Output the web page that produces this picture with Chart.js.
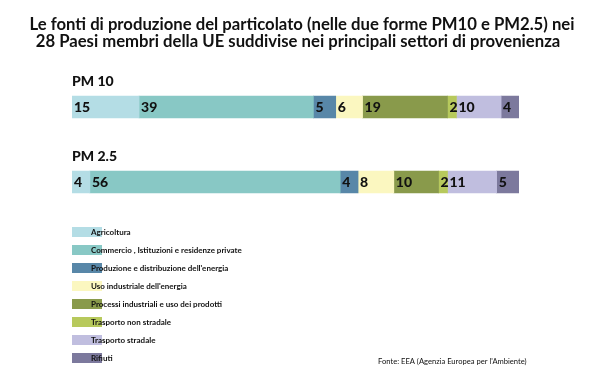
<!DOCTYPE html>
<html>
<head>
<meta charset="utf-8">
<script src="https://cdn.jsdelivr.net/npm/chart.js@4"></script>
<style>
    html, body { margin: 0; padding: 0; background: #fff; }
    canvas { display: block; }
</style>
</head>
<body>
<canvas id="chart" width="600" height="382"></canvas>
<script>
const categories = ["PM 10", "PM 2.5"]
const sectors = [
    "Agricoltura",
    "Commercio , Istituzioni e residenze private",
    "Produzione e distribuzione dell'energia",
    "Uso industriale dell'energia",
    "Processi industriali e uso dei prodotti",
    "Trasporto non stradale",
    "Trasporto stradale",
    "Rifiuti",
]
const pm10Values = [15, 39, 5, 6, 19, 2, 10, 4]
const pm25Values = [4, 56, 4, 8, 10, 2, 11, 5]
const sectorColors = [
    "#b4dde5", "#88c8c5", "#5887a8", "#fbf7c0",
    "#899a4b", "#b7c95c", "#c0bedf", "#7c799d",
]
const titleLines = [
    "Le fonti di produzione del particolato (nelle due forme PM10 e PM2.5) nei",
    "28 Paesi membri della UE suddivise nei principali settori di provenienza",
]
const sourceText = "Fonte: EEA (Agenzia Europea per l'Ambiente)"

const FONT = "Lato, 'Open Sans', sans-serif"

const datasets = sectors.map((name, i) => ({
    label: name,
    data: [pm10Values[i], pm25Values[i]],
    backgroundColor: sectorColors[i],
    borderWidth: 0,
    barThickness: 22,
}))

const decorations = {
    id: "decorations",
    afterDatasetsDraw(chart) {
        const ctx = chart.ctx
        ctx.save()
        ctx.fillStyle = "#111"
        ctx.textBaseline = "middle"

        // segment values
        ctx.font = "900 14px " + FONT
        ctx.textAlign = "left"
        chart.data.datasets.forEach((ds, i) => {
            chart.getDatasetMeta(i).data.forEach((bar, j) => {
                const left = Math.min(bar.x, bar.base)
                ctx.fillText(ds.data[j], left + 2, bar.y)
            })
        })

        // category labels above bars
        ctx.font = "900 14px " + FONT
        const yScale = chart.scales.y
        categories.forEach((c, i) => {
            ctx.fillText(c, 72, yScale.getPixelForValue(i) - 26)
        })

        // title
        ctx.font = "bold 16.7px " + FONT
        ctx.textAlign = "center"
        ctx.fillText(titleLines[0], 302, 25)
        ctx.fillText(titleLines[1], 298, 42)

        // legend
        ctx.textAlign = "left"
        ctx.font = "bold 8px " + FONT
        sectors.forEach((name, i) => {
            const y = 232 + i * 18
            ctx.fillStyle = sectorColors[i]
            ctx.fillRect(72, y - 5, 30, 10)
            ctx.fillStyle = "#111"
            ctx.fillText(name, 91, y)
        })

        // source
        ctx.font = "7.6px " + FONT
        ctx.fillText(sourceText, 378, 362)
        ctx.restore()
    },
}

new Chart(document.getElementById("chart").getContext("2d"), {
    type: "bar",
    data: {
        labels: categories,
        datasets,
    },
    plugins: [decorations],
    options: {
        indexAxis: "y",
        responsive: false,
        animation: false,
        layout: {
            padding: { left: 72, right: 81, top: 69.5, bottom: 162.5 },
        },
        plugins: {
            legend: { display: false },
            tooltip: { enabled: false },
            title: { display: false },
        },
        scales: {
            x: {
                stacked: true,
                min: 0,
                max: 100,
                display: false,
            },
            y: {
                stacked: true,
                display: false,
            },
        },
    },
})
</script>
</body>
</html>
